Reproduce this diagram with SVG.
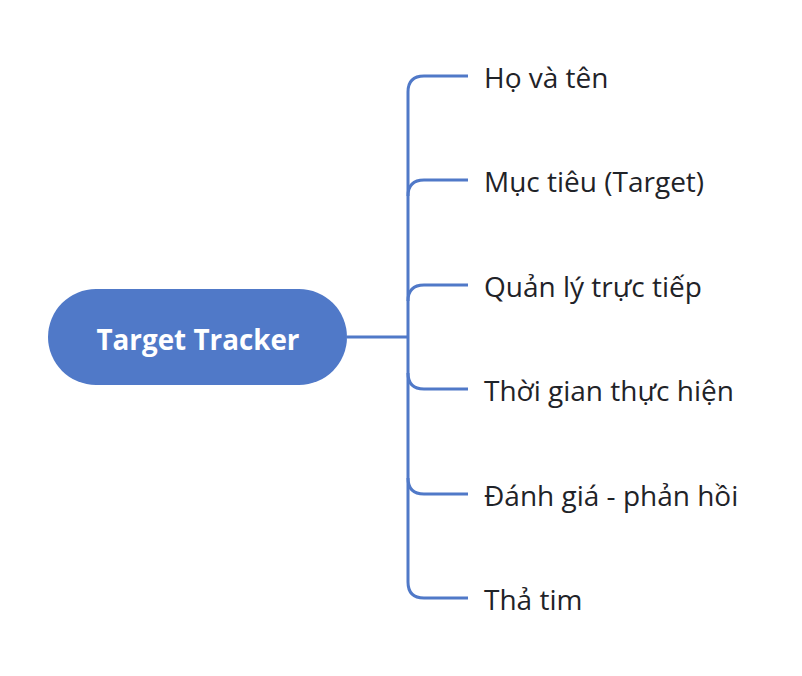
<svg xmlns="http://www.w3.org/2000/svg" width="802" height="676" viewBox="0 0 802 676">
<style>
.link{fill:none;stroke:#5079C8;stroke-width:3;stroke-linecap:butt}
.lbl{font-family:"Open Sans","Noto Sans",sans-serif;font-size:28px;fill:#1f2328}
.root{font-family:"Open Sans","Noto Sans",sans-serif;font-size:27.8px;font-weight:bold;fill:#ffffff}
</style>
<rect width="802" height="676" fill="#ffffff"/>
<g id="connectors">
<path class="link" d="M347 337 H408"/>
<path class="link" d="M468 76 H424 Q408 76 408 92 V582 Q408 598 424 598 H468"/>
<path class="link" d="M468 180 H424 Q408 180 408 196"/>
<path class="link" d="M468 285 H424 Q408 285 408 301"/>
<path class="link" d="M468 389 H424 Q408 389 408 373"/>
<path class="link" d="M468 494 H424 Q408 494 408 478"/>
</g>
<g id="root">
<rect x="48" y="289" width="299" height="96" rx="48" fill="#5079C8"/>
<text class="root" x="198" y="350" text-anchor="middle">Target Tracker</text>
</g>
<g id="n1"><text class="lbl" x="484" y="88">Họ và tên</text></g>
<g id="n2"><text class="lbl" x="484" y="192">Mục tiêu (Target)</text></g>
<g id="n3"><text class="lbl" x="484" y="297">Quản lý trực tiếp</text></g>
<g id="n4"><text class="lbl" x="484" y="401">Thời gian thực hiện</text></g>
<g id="n5"><text class="lbl" x="484" y="506">Đánh giá - phản hồi</text></g>
<g id="n6"><text class="lbl" x="484" y="610">Thả tim</text></g>
</svg>
